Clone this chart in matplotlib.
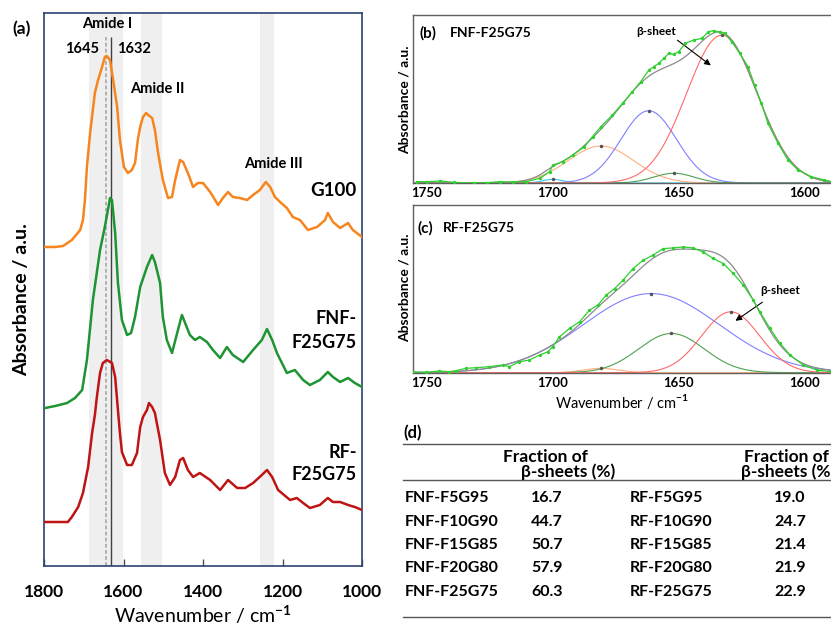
import numpy as np
import matplotlib
matplotlib.use('Agg')
import matplotlib.pyplot as plt
from matplotlib.lines import Line2D

plt.rcParams['font.family'] = ['Lato', 'DejaVu Sans']
plt.rcParams['font.weight'] = 'bold'
plt.rcParams['mathtext.fontset'] = 'custom'
plt.rcParams['mathtext.rm'] = 'Lato'
plt.rcParams['mathtext.bf'] = 'Lato:bold'

W, H = 831, 627

# ---- (a) full FTIR spectra, stacked ----
wn_g100 = [1797, 1772, 1752, 1730, 1709, 1702, 1697, 1692, 1684, 1672, 1664, 1654, 1647, 1642, 1634,
           1626, 1616, 1609, 1599, 1589, 1579, 1571, 1564, 1558, 1551, 1543, 1538, 1528, 1521, 1513,
           1501, 1488, 1478, 1470, 1458, 1450, 1438, 1425, 1413, 1400, 1382, 1362, 1350, 1337, 1325,
           1307, 1289, 1274, 1257, 1242, 1231, 1219, 1206, 1189, 1174, 1156, 1136, 1113, 1093, 1086,
           1073, 1055, 1035, 1023, 1000]
abs_g100 = [3.19, 3.19, 3.20, 3.26, 3.36, 3.46, 3.66, 3.99, 4.33, 4.73, 4.86, 4.99, 5.09, 5.10, 5.06,
            4.86, 4.59, 4.26, 3.99, 3.93, 3.96, 4.03, 4.26, 4.39, 4.49, 4.53, 4.51, 4.48, 4.36, 4.13,
            3.86, 3.68, 3.69, 3.86, 4.06, 4.04, 3.93, 3.79, 3.83, 3.83, 3.74, 3.61, 3.68, 3.74, 3.69,
            3.68, 3.66, 3.71, 3.76, 3.84, 3.79, 3.69, 3.64, 3.58, 3.49, 3.46, 3.36, 3.39, 3.46, 3.53,
            3.44, 3.38, 3.43, 3.36, 3.29]

wn_fnf = [1797, 1772, 1742, 1722, 1704, 1692, 1677, 1659, 1647, 1636, 1634, 1629, 1621, 1614, 1604,
          1591, 1581, 1571, 1558, 1541, 1528, 1521, 1508, 1501, 1491, 1478, 1465, 1453, 1445, 1433,
          1420, 1408, 1390, 1375, 1357, 1340, 1325, 1299, 1274, 1252, 1239, 1226, 1214, 1189, 1169,
          1148, 1131, 1106, 1086, 1073, 1055, 1035, 1018, 1000]
abs_fnf = [1.58, 1.60, 1.63, 1.68, 1.76, 2.06, 2.66, 3.16, 3.39, 3.63, 3.68, 3.66, 3.33, 2.83, 2.46,
           2.31, 2.33, 2.49, 2.79, 2.99, 3.11, 3.04, 2.83, 2.49, 2.26, 2.13, 2.33, 2.51, 2.43, 2.31,
           2.26, 2.29, 2.24, 2.16, 2.08, 2.19, 2.11, 2.04, 2.16, 2.26, 2.37, 2.26, 2.13, 1.93, 1.96,
           1.86, 1.81, 1.86, 1.94, 1.89, 1.84, 1.88, 1.83, 1.79]

wn_rf = [1797, 1740, 1730, 1714, 1702, 1689, 1679, 1672, 1667, 1659, 1652, 1642, 1629, 1621, 1614,
         1609, 1604, 1591, 1579, 1566, 1558, 1551, 1541, 1536, 1528, 1521, 1508, 1496, 1483, 1470,
         1458, 1450, 1438, 1425, 1408, 1382, 1357, 1337, 1314, 1294, 1274, 1252, 1239, 1226, 1211,
         1181, 1164, 1148, 1131, 1106, 1086, 1073, 1055, 1035, 1018, 1000]
abs_rf = [0.44, 0.44, 0.49, 0.59, 0.73, 0.99, 1.33, 1.51, 1.69, 1.93, 2.03, 2.06, 2.03, 1.89, 1.56,
          1.33, 1.14, 1.01, 1.01, 1.13, 1.39, 1.49, 1.56, 1.63, 1.59, 1.53, 1.26, 0.93, 0.81, 0.89,
          1.06, 1.08, 0.96, 0.89, 0.93, 0.86, 0.76, 0.86, 0.78, 0.78, 0.83, 0.91, 0.96, 0.89, 0.76,
          0.66, 0.68, 0.63, 0.58, 0.61, 0.68, 0.64, 0.64, 0.61, 0.59, 0.56]

amide_bands = [(1687, 1601), (1556, 1503), (1257, 1221)]
peak_fnf_line = 1632
peak_rf_line = 1645

# ---- (b)/(c) amide I deconvolution ----
wn_b = [1754.1, 1749.9, 1744.6, 1739.4, 1731.5, 1726.3, 1721.0, 1715.7, 1710.5, 1705.2, 1701.3, 1700.0,
        1696.1, 1692.1, 1687.5, 1684.3, 1681.0, 1676.4, 1672.4, 1668.5, 1665.2, 1661.9, 1660.0, 1658.0,
        1656.0, 1654.0, 1652.1, 1650.1, 1647.5, 1644.2, 1640.9, 1638.3, 1636.3, 1633.7, 1631.8, 1629.1,
        1625.9, 1622.6, 1620.0, 1617.3, 1614.7, 1610.7, 1606.8, 1602.8, 1597.6, 1592.4, 1589.4]
abs_b = [0.008, 0.008, 0.012, 0.004, 0.000, 0.002, 0.008, 0.006, 0.008, 0.028, 0.067, 0.107,
         0.127, 0.167, 0.216, 0.276, 0.335, 0.405, 0.474, 0.543, 0.603, 0.673, 0.692, 0.712,
         0.742, 0.772, 0.766, 0.782, 0.831, 0.851, 0.861, 0.901, 0.907, 0.897, 0.891, 0.841,
         0.772, 0.692, 0.583, 0.474, 0.355, 0.236, 0.137, 0.077, 0.038, 0.018, 0.008]
# fitted gaussian bands: centre, height, sigma
bands_b = {'cyan': (1700, 0.022, 4), 'orange': (1681, 0.22, 13), 'blue': (1662, 0.43, 11),
           'green': (1652, 0.058, 8), 'red': (1633, 0.88, 14)}

wn_c = [1756.0, 1750.4, 1745.1, 1741.1, 1738.5, 1734.5, 1730.5, 1725.2, 1719.9, 1717.3, 1713.3, 1709.3,
        1705.3, 1702.0, 1700.1, 1697.4, 1693.4, 1689.4, 1685.5, 1682.2, 1678.8, 1675.5, 1672.2, 1668.2,
        1664.2, 1660.3, 1656.3, 1652.3, 1648.3, 1644.4, 1640.4, 1636.4, 1632.4, 1628.5, 1624.5, 1620.5,
        1617.9, 1613.9, 1609.9, 1605.9, 1600.7, 1595.3, 1589.6]
abs_c = [0.006, 0.002, 0.010, 0.006, 0.012, 0.026, 0.030, 0.036, 0.046, 0.036, 0.065, 0.076,
         0.105, 0.125, 0.155, 0.214, 0.264, 0.304, 0.373, 0.403, 0.463, 0.502, 0.552, 0.621,
         0.671, 0.701, 0.740, 0.744, 0.750, 0.744, 0.720, 0.681, 0.651, 0.592, 0.522, 0.433,
         0.363, 0.264, 0.175, 0.105, 0.046, 0.016, 0.006]
bands_c = {'orange': (1681, 0.026, 7), 'blue': (1661, 0.472, 27), 'green': (1653, 0.234, 13),
           'red': (1629.5, 0.363, 11.5)}

band_colors = {'cyan': '#35C8F0', 'orange': '#FFAF80', 'blue': '#7F7FFF',
               'green': '#4FA04F', 'red': '#FF6A6A'}

# ---- (d) table ----
fnf_names = ['FNF-F5G95', 'FNF-F10G90', 'FNF-F15G85', 'FNF-F20G80', 'FNF-F25G75']
fnf_beta = [16.7, 44.7, 50.7, 57.9, 60.3]
rf_names = ['RF-F5G95', 'RF-F10G90', 'RF-F15G85', 'RF-F20G80', 'RF-F25G75']
rf_beta = [19.0, 24.7, 21.4, 21.9, 22.9]


def fx(px):
    return px / W


def fy(py):
    return 1 - py / H


fig = plt.figure(figsize=(W / 100, H / 100), dpi=100)

# ---------------- panel (a) ----------------
ax = fig.add_axes([fx(44), fy(566), fx(362) - fx(44), fy(13) - fy(566)])
for lo, hi in amide_bands:
    ax.axvspan(lo, hi, color='#EFEFEF', lw=0, zorder=0)
ax.vlines(peak_rf_line, 0, 5.29, colors='#A0A0A0', linestyles=(0, (2.5, 1.5)), lw=1.1, zorder=1)
ax.vlines(peak_fnf_line, 0, 5.29, colors='#404040', lw=1.0, zorder=1)
ax.plot(wn_g100, abs_g100, color='#F7851E', lw=1.8, zorder=3)
ax.plot(wn_fnf, abs_fnf, color='#1E9432', lw=1.8, zorder=3)
ax.plot(wn_rf, abs_rf, color='#BE1414', lw=1.8, zorder=3)
ax.set_xlim(1800, 1000)
ax.set_ylim(0, 5.53)
ax.set_xticks([1800, 1600, 1400, 1200, 1000])
ax.set_yticks([])
ax.tick_params(axis='x', direction='in', length=5, width=1, labelsize=12.5, pad=13, color='#505050')
for s in ax.spines.values():
    s.set_color('#2B4272')
    s.set_linewidth(1.2)
ax.set_xlabel(r'Wavenumber / cm$^{\mathbf{-1}}$', fontsize=14, labelpad=2)

ax.text(1642, 5.42, 'Amide I', ha='center', va='center', fontsize=10.5)
ax.text(1662, 5.17, '1645', ha='right', va='center', fontsize=10.5)
ax.text(1616, 5.17, '1632', ha='left', va='center', fontsize=10.5)
ax.text(1516, 4.77, 'Amide II', ha='center', va='center', fontsize=10.5)
ax.text(1224, 4.02, 'Amide III', ha='center', va='center', fontsize=10.5)
ax.text(1013, 3.75, 'G100', ha='right', va='center', fontsize=13.5)
ax.text(1013, 2.48, 'FNF-', ha='right', va='center', fontsize=13)
ax.text(1013, 2.24, 'F25G75', ha='right', va='center', fontsize=13)
ax.text(1013, 1.14, 'RF-', ha='right', va='center', fontsize=13)
ax.text(1013, 0.92, 'F25G75', ha='right', va='center', fontsize=13)

fig.text(fx(12), fy(29), '(a)', ha='left', va='center', fontsize=12.5)
fig.text(fx(22), fy(300), 'Absorbance / a.u.', rotation=90, ha='center', va='center', fontsize=14)


# ---------------- panels (b) and (c) ----------------
def deconv_panel(top, bottom, wn, ab, bands):
    axd = fig.add_axes([fx(413), fy(bottom), 1 - fx(413), fy(top) - fy(bottom)])
    x = np.linspace(1760, 1585, 600)
    total = np.zeros_like(x)
    for name, (c, h, s) in bands.items():
        g = h * np.exp(-(x - c) ** 2 / (2 * s ** 2))
        total += g
        axd.plot(x, g, color=band_colors[name], lw=0.8, zorder=2)
        axd.plot([c], [h], marker='o', ms=1.5, color='#555555', zorder=3)
    axd.plot(x, total, color='#8A8A8A', lw=0.9, zorder=3)
    axd.plot(wn, ab, color='#2ED02E', lw=0.9, marker='o', ms=1.4, zorder=4)
    axd.set_xlim(1755.5, 1589.7)
    axd.set_ylim(0, 1.0)
    axd.set_xticks([1750, 1700, 1650, 1600])
    axd.set_yticks([])
    axd.tick_params(axis='x', length=0, labelsize=9.5, pad=3)
    axd.spines['right'].set_visible(False)
    for s in ['left', 'top', 'bottom']:
        axd.spines[s].set_color('#606060')
        axd.spines[s].set_linewidth(1.0)
    return axd


axb = deconv_panel(15, 183, wn_b, abs_b, bands_b)
axb.annotate('', xy=(1636.5, 0.69), xytext=(1651.5, 0.86),
             arrowprops=dict(arrowstyle='-|>', color='black', lw=0.8, mutation_scale=9))
axb.text(1659, 0.90, 'β-sheet', ha='center', va='center', fontsize=8.5)
fig.text(fx(420), fy(33), '(b)', ha='left', va='center', fontsize=11)
fig.text(fx(450), fy(33), 'FNF-F25G75', ha='left', va='center', fontsize=10)
fig.text(fx(405), fy(100), 'Absorbance / a.u.', rotation=90, ha='center', va='center', fontsize=10)

axc = deconv_panel(205, 372.7, wn_c, abs_c, bands_c)
axc.annotate('', xy=(1628.5, 0.30), xytext=(1616.0, 0.43),
             arrowprops=dict(arrowstyle='-|>', color='black', lw=0.8, mutation_scale=9))
axc.text(1610, 0.49, 'β-sheet', ha='center', va='center', fontsize=8.5)
axc.set_xlabel(r'Wavenumber / cm$^{\mathbf{-1}}$', fontsize=10.5, labelpad=2)
fig.text(fx(418), fy(228), '(c)', ha='left', va='center', fontsize=11)
fig.text(fx(443), fy(228), 'RF-F25G75', ha='left', va='center', fontsize=10)
fig.text(fx(405), fy(288), 'Absorbance / a.u.', rotation=90, ha='center', va='center', fontsize=10)

# ---------------- panel (d) table ----------------
fig.text(fx(403), fy(433), '(d)', ha='left', va='center', fontsize=12)
for yl in [444.3, 480, 616.7]:
    fig.add_artist(Line2D([fx(403), 1.0], [fy(yl), fy(yl)], color='#555555', lw=1.0))
for x1, x2 in [(503, 521), (744, 741)]:
    fig.text(fx(x1), fy(457), 'Fraction of', ha='left', va='center', fontsize=12.5)
    fig.text(fx(x2), fy(472), 'β-sheets (%)', ha='left', va='center', fontsize=12.5)
row_y = [498.3, 521.7, 545, 568.3, 591.7]
for i, yy in enumerate(row_y):
    fig.text(fx(405), fy(yy), fnf_names[i], ha='left', va='center', fontsize=11.5)
    fig.text(fx(547), fy(yy), f'{fnf_beta[i]:.1f}', ha='center', va='center', fontsize=11.5)
    fig.text(fx(630), fy(yy), rf_names[i], ha='left', va='center', fontsize=11.5)
    fig.text(fx(790), fy(yy), f'{rf_beta[i]:.1f}', ha='center', va='center', fontsize=11.5)

fig.savefig('out.png', dpi=100)
